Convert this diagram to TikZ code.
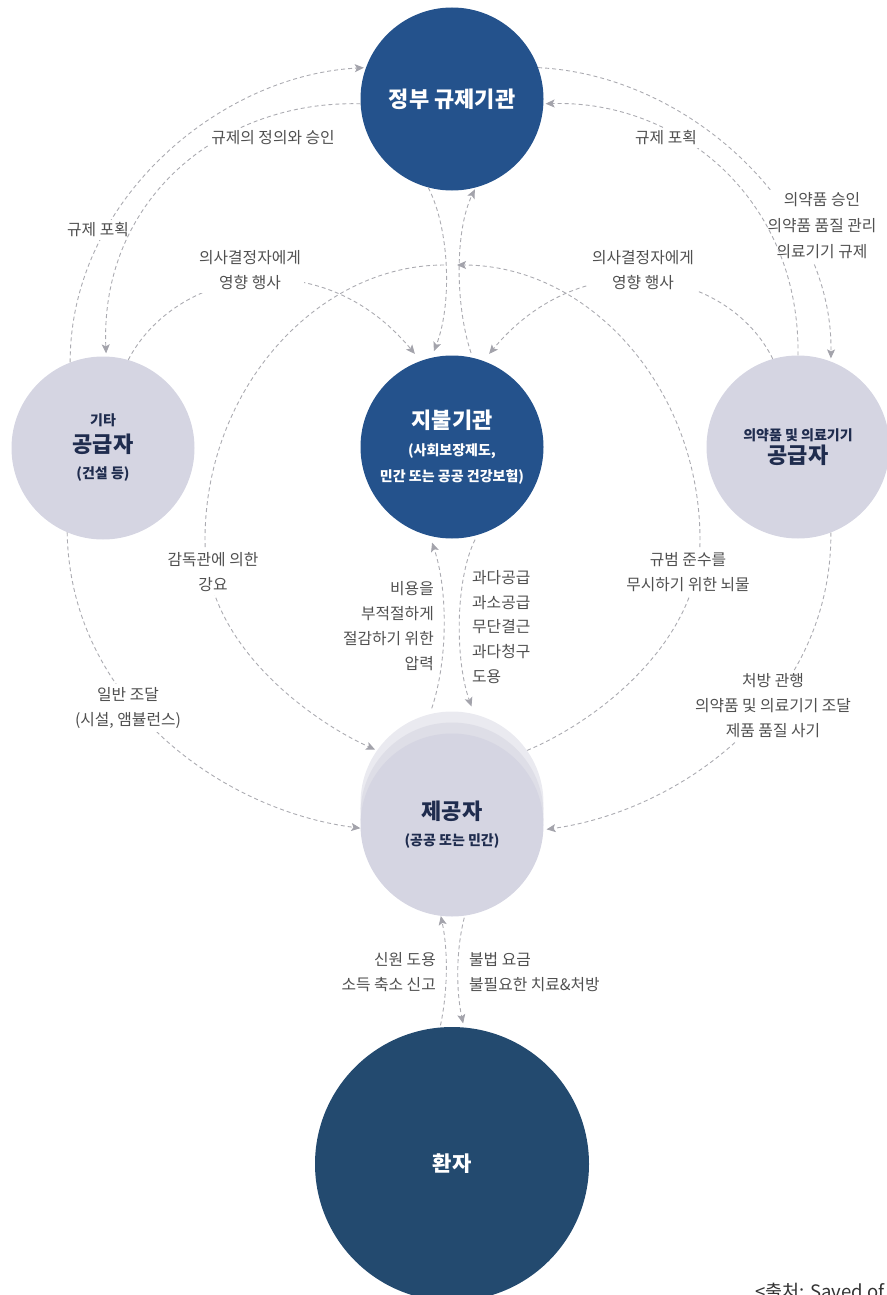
\documentclass[tikz,border=0pt]{standalone}
\usepackage{fontspec}
\setmainfont{Noto Sans CJK KR}
\usetikzlibrary{arrows.meta}

\definecolor{govblue}{HTML}{24528C}
\definecolor{patblue}{HTML}{234A6F}
\definecolor{disc}{HTML}{D5D5E2}
\definecolor{discmid}{HTML}{DEDEE7}
\definecolor{discback}{HTML}{EAEAF0}
\definecolor{navytext}{HTML}{1F2C4E}
\definecolor{flowgray}{HTML}{ABABB1}
\definecolor{tipgray}{HTML}{A3A3AB}
\definecolor{notegray}{HTML}{505050}
\definecolor{sourcegray}{HTML}{333333}

\newcommand\agenttitle{\fontsize{22}{26}\selectfont\bfseries}
\newcommand\agentsub{\fontsize{14}{26}\selectfont\bfseries}

\tikzset{
  agent/.style={circle, minimum size=183pt, inner sep=0pt, align=center, font=\agentsub},
  darkagent/.style={agent, fill=govblue, text=white},
  lightagent/.style={agent, fill=disc, text=navytext},
  flowline/.style={draw=flowgray, line width=0.9pt, dash pattern=on 4pt off 3pt,
    -{Stealth[length=9pt,width=8pt,inset=2pt,color=tipgray]}},
  note/.style={fill=white, text=notegray, inner sep=3pt, align=center,
    font=\fontsize{15.8}{25}\selectfont},
  side/.style={text=notegray, inner sep=0pt, font=\fontsize{15.8}{24.8}\selectfont},
}

\begin{document}
\begin{tikzpicture}[x=1pt,y=-1pt]
\useasboundingbox (0,0) rectangle (886,1295);

% ---- actors ----
\node[darkagent, font=\agenttitle] (gov) at (452,99) {정부 규제기관};
\node[darkagent] (pay) at (452,447)
  {{\agenttitle 지불기관}\\[1pt](사회보장제도,\\민간 또는 공공 건강보험)};
\node[lightagent] (lsup) at (103,448)
  {기타\\[1pt]{\agenttitle 공급자}\\(건설 등)};
\node[lightagent] (rsup) at (798,447)
  {의약품 및 의료기기\\[-3pt]{\agenttitle 공급자}};
\node[agent, fill=discback] (provA) at (452,803) {};
\node[agent, fill=discmid] (provB) at (452,814) {};
\node[lightagent] (prov) at (452,825)
  {{\agenttitle 제공자}\\(공공 또는 민간)};
\node[circle, minimum size=274pt, inner sep=0pt, fill=patblue, text=white,
  font=\fontsize{21}{24}\selectfont\bfseries] (pat) at (452,1164) {환자};

% ---- regulator and other suppliers ----
\draw[flowline, shorten >=2pt] (lsup.111) .. controls (70,200) and (220,75) .. (gov.160);
\node[note] (capL) at (98,230) {규제 포획};
\draw[flowline, shorten >=3pt] (gov.183) .. controls (220,100) and (100,200) .. (lsup.88);
\node[note] (define) at (273,138) {규제의 정의와 승인};

% ---- regulator and pharma suppliers ----
\draw[flowline, shorten >=3pt] (gov.20) .. controls (690,75) and (833,210) .. (rsup.69);
\node[note] (approve) at (822,226) {의약품 승인\\[1pt]의약품 품질 관리\\[1pt]의료기기 규제};
\draw[flowline, shorten >=2pt] (rsup.90) .. controls (800,200) and (680,100) .. (gov.357);
\node[note] (capR) at (666,138) {규제 포획};

% ---- lobbying of the payer ----
\draw[flowline, shorten >=9pt] (lsup.74) .. controls (175,270) and (320,240) .. (pay.110);
\node[note] (inflL) at (250,270) {의사결정자에게\\영향 행사};
\draw[flowline, shorten >=9pt] (rsup.106) .. controls (729,270) and (584,240) .. (pay.70);
\node[note] (inflR) at (643,270) {의사결정자에게\\영향 행사};

% ---- regulator and payer ----
\draw[flowline, shorten >=7pt] (gov.255) .. controls (450,230) and (452,305) .. (pay.103);
\draw[flowline, shorten <=5pt, shorten >=2pt] (pay.77) .. controls (455,305) and (455,230) .. (gov.285);

% ---- outer loop around the payer ----
\coordinate (loopL) at (444,265);
\coordinate (loopR) at (457,265);
\draw[flowline, shorten >=2pt] (loopL) .. controls (318,265) and (205,388) .. (205,540)
  .. controls (205,650) and (320,725) .. (provA.145);
\draw[flowline] (provA.35) .. controls (600,720) and (700,640) .. (700,540)
  .. controls (700,388) and (589,265) .. (loopR);
\node[note] (coerce) at (213,572) {감독관에 의한\\강요};
\node[note] (bribe) at (688,572) {규범 준수를\\무시하기 위한 뇌물};

% ---- payer and provider ----
\draw[flowline, shorten <=5pt, shorten >=8pt] (pay.286) .. controls (455,580) and (455,660) .. (provA.76);
\draw[flowline, shorten <=6pt, shorten >=7pt] (provA.104) .. controls (448,660) and (448,590) .. (pay.256);
\node[side, anchor=east, align=right] (costcut) at (434,626) {비용을\\부적절하게\\절감하기 위한\\압력};
\node[side, anchor=west, align=left] (fraud) at (472,627) {과다공급\\과소공급\\무단결근\\과다청구\\도용};

% ---- procurement ----
\draw[flowline] (lsup.247) .. controls (70,700) and (220,810) .. (prov.182);
\node[note] (procure) at (128,708) {일반 조달\\(시설, 앰뷸런스)};
\draw[flowline, shorten >=3pt] (rsup.291) .. controls (832,700) and (684,810) .. (prov.357);
\node[note] (pharma) at (773,706) {처방 관행\\의약품 및 의료기기 조달\\제품 품질 사기};

% ---- provider and patient ----
\draw[flowline, shorten <=2pt] (pat.95) .. controls (448,990) and (448,950) .. (prov.263);
\draw[flowline, shorten <=2pt, shorten >=4pt] (prov.278) .. controls (456,950) and (456,990) .. (pat.85);
\node[side, anchor=east, align=right] (victimL) at (436,972) {신원 도용\\소득 축소 신고};
\node[side, anchor=west, align=left] (victimR) at (469,972) {불법 요금\\불필요한 치료\&처방};

% ---- source line ----
\node[anchor=base west, inner sep=0pt, text=sourcegray, font=\fontsize{18.5}{18.5}\selectfont]
  (source) at (755,1298) {<출처: Saved of};
\end{tikzpicture}
\end{document}
